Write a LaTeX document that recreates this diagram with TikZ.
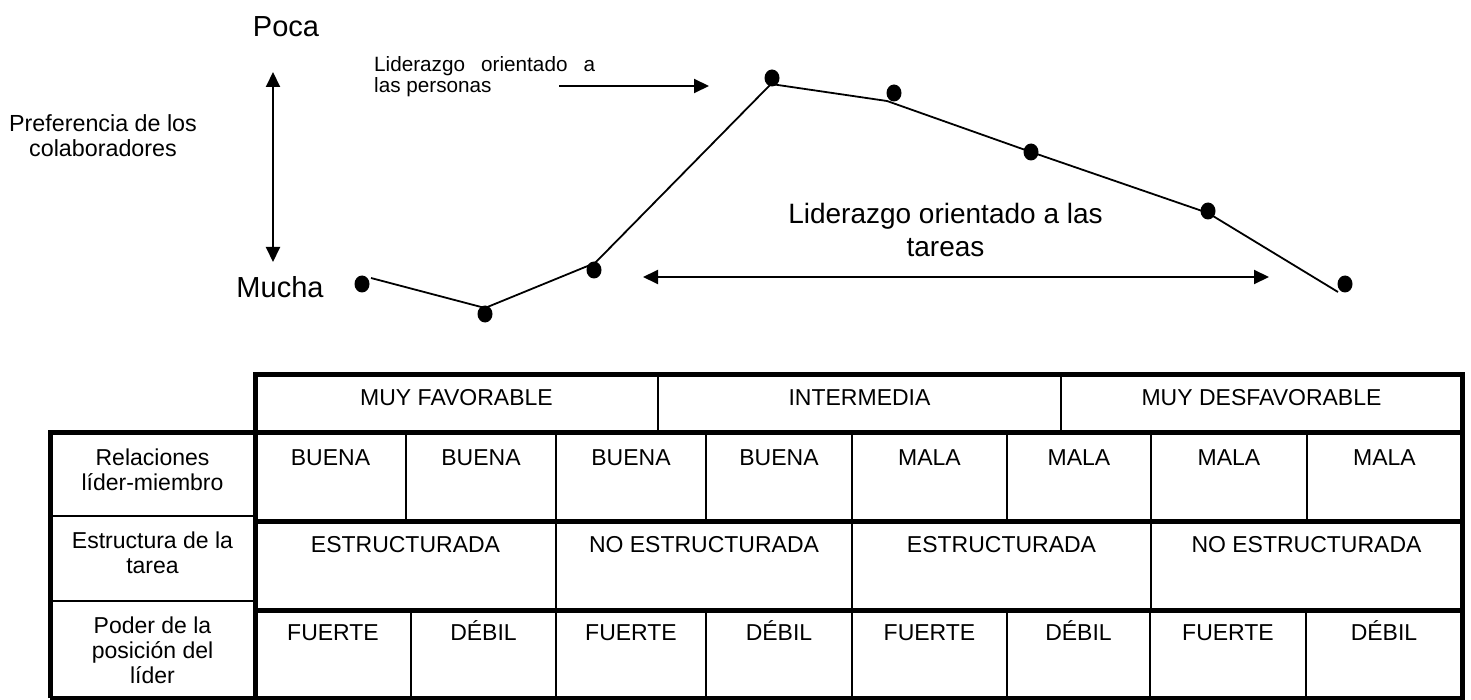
\documentclass[tikz,border=0pt]{standalone}
\usepackage{fontspec}
\setmainfont{Liberation Sans}
\usetikzlibrary{arrows.meta,shapes.geometric}
\begin{document}
\begin{tikzpicture}[x=1pt,y=-1pt,
  dot/.style={ellipse,fill=black,inner sep=0pt,minimum width=15pt,minimum height=17pt},
  curveline/.style={line width=1.8pt,line join=round},
  arr/.style={line width=2pt,-{Triangle[length=15pt,width=14pt]}},
  darr/.style={line width=2pt,{Triangle[length=15pt,width=14pt]}-{Triangle[length=15pt,width=14pt]}},
  big/.style={font=\fontsize{29}{33}\selectfont,inner sep=0pt,anchor=base},
  lbl/.style={font=\fontsize{23.3}{25}\selectfont,inner sep=0pt,anchor=base,align=center},
  cell/.style={font=\fontsize{23}{25}\selectfont,inner sep=0pt,anchor=base,align=center},
  tline/.style={line width=5pt},
  nline/.style={line width=2pt}
]
\fill[white] (0,0) rectangle (1471,700);
\useasboundingbox (0,0) rectangle (1471,700);

% ---------- graph ----------
\node[big] (poca) at (286,37) {Poca};
\node[big] (mucha) at (280,298) {Mucha};
\node[lbl] (pref) at (103,157) {Preferencia de los\\colaboradores};

\coordinate (vtop) at (273,72);
\coordinate (vbot) at (273,262);
\draw[darr] (vtop) -- (vbot);

\node[font=\fontsize{20.7}{21}\selectfont,inner sep=0pt,anchor=base west,align=left] (pers) at (374,93)
  {\makebox[221pt][s]{Liderazgo orientado a}\\las personas};
\coordinate (pa) at (559,86);
\coordinate (pb) at (709,86);
\draw[arr] (pa) -- (pb);

\node[font=\fontsize{28}{33}\selectfont,inner sep=0pt,anchor=base,align=center] (tar) at (945.5,257)
  {Liderazgo orientado a las\\tareas};
\coordinate (ta) at (643,277);
\coordinate (tb) at (1269,277);
\draw[darr] (ta) -- (tb);

\coordinate (v1) at (371,278);
\coordinate (v2) at (485,308);
\coordinate (v3) at (595,263);
\coordinate (v4) at (771,84);
\coordinate (v5) at (887,101);
\coordinate (v6) at (1031,152);
\coordinate (v7) at (1208,213);
\coordinate (v8) at (1338,292);
\draw[curveline] (v1) -- (v2) -- (v3) -- (v4) -- (v5) -- (v6) -- (v7) -- (v8);

\node[dot] (d1) at (362,284) {};
\node[dot] (d2) at (485,314) {};
\node[dot] (d3) at (594,270) {};
\node[dot] (d4) at (772,78) {};
\node[dot] (d5) at (894,93) {};
\node[dot] (d6) at (1031,152) {};
\node[dot] (d7) at (1208,211) {};
\node[dot] (d8) at (1345,284) {};

% ---------- table: left column ----------
\draw[nline] (50,516) -- (255,516);
\draw[nline] (50,601) -- (255,601);
\draw[tline] (50,698) -- (50,432) -- (255,432);
\draw[tline] (50,698) -- (255,698);

% ---------- table: right part ----------
\foreach \x in {658,1061} \draw[nline] (\x,374.5) -- (\x,432);
\foreach \x in {406,556,706,852,1007,1151,1307} \draw[nline] (\x,432) -- (\x,521);
\foreach \x in {556,852,1151} \draw[nline] (\x,521) -- (\x,610);
\foreach \x in {411,556,706,852,1007,1150,1306} \draw[nline] (\x,610) -- (\x,698);
\foreach \y in {432,521,610} \draw[tline] (255,\y) -- (1462,\y);
\draw[tline] (255,698) -- (255,374.5) -- (1462,374.5) -- (1462,698) -- cycle;

% left column texts (anchored at last baseline)
\node[cell] (lrel) at (152.5,490) {Relaciones\\líder-miembro};
\node[cell] (lest) at (152.5,573) {Estructura de la\\tarea};
\node[cell] (lpod) at (152.5,683) {Poder de la\\posición del\\líder};

% header
\node[cell] (h1) at (456.5,405) {MUY FAVORABLE};
\node[cell] (h2) at (859.5,405) {INTERMEDIA};
\node[cell] (h3) at (1261.5,405) {MUY DESFAVORABLE};

% row 1
\node[cell] (a1) at (330.5,465) {BUENA};
\node[cell] (a2) at (481,465) {BUENA};
\node[cell] (a3) at (631,465) {BUENA};
\node[cell] (a4) at (779,465) {BUENA};
\node[cell] (a5) at (929.5,465) {MALA};
\node[cell] (a6) at (1079,465) {MALA};
\node[cell] (a7) at (1229,465) {MALA};
\node[cell] (a8) at (1384.5,465) {MALA};

% row 2
\node[cell] (b1) at (405.5,552) {ESTRUCTURADA};
\node[cell] (b2) at (704,552) {NO ESTRUCTURADA};
\node[cell] (b3) at (1001.5,552) {ESTRUCTURADA};
\node[cell] (b4) at (1306.5,552) {NO ESTRUCTURADA};

% row 3
\node[cell] (c1) at (333,640) {FUERTE};
\node[cell] (c2) at (483.5,640) {DÉBIL};
\node[cell] (c3) at (631,640) {FUERTE};
\node[cell] (c4) at (779,640) {DÉBIL};
\node[cell] (c5) at (929.5,640) {FUERTE};
\node[cell] (c6) at (1078.5,640) {DÉBIL};
\node[cell] (c7) at (1228,640) {FUERTE};
\node[cell] (c8) at (1384,640) {DÉBIL};
\end{tikzpicture}
\end{document}
